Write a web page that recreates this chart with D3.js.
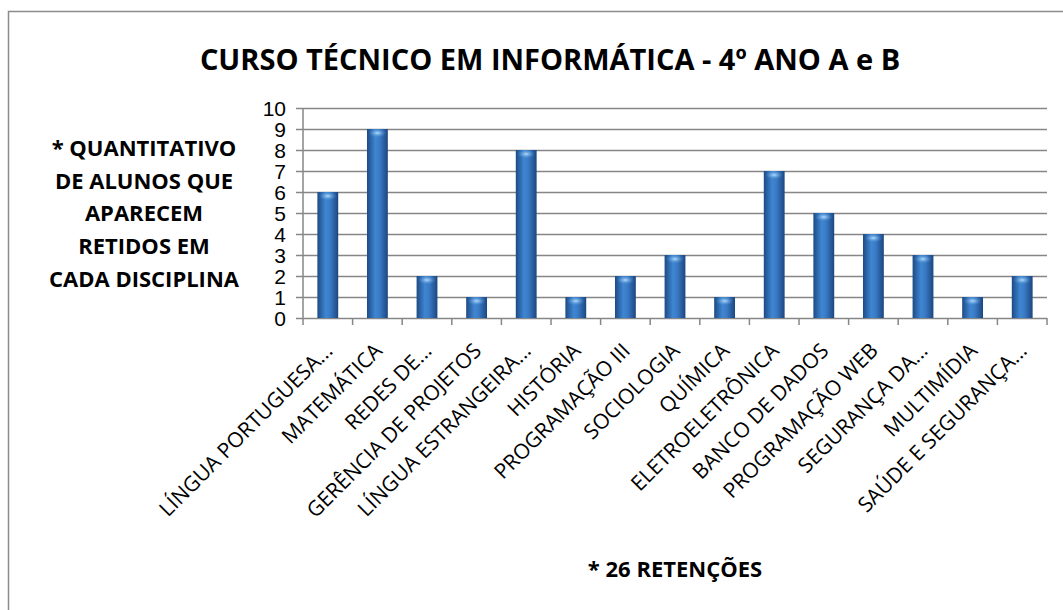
<!DOCTYPE html>
<html>
<head>
<meta charset="utf-8">
<script src="https://cdn.jsdelivr.net/npm/d3@7"></script>
<style>
  body { margin: 0; background: #fff; }
  svg { display: block; }
</style>
</head>
<body>
<div id="chart"></div>
<script>
// data
var disciplinas = ["LÍNGUA PORTUGUESA...", "MATEMÁTICA", "REDES DE...", "GERÊNCIA DE PROJETOS",
  "LÍNGUA ESTRANGEIRA...", "HISTÓRIA", "PROGRAMAÇÃO III", "SOCIOLOGIA", "QUÍMICA",
  "ELETROELETRÔNICA", "BANCO DE DADOS", "PROGRAMAÇÃO WEB", "SEGURANÇA DA...",
  "MULTIMÍDIA", "SAÚDE E SEGURANÇA..."];
var retidos = [6, 9, 2, 1, 8, 1, 2, 3, 1, 7, 5, 4, 3, 1, 2];
var yTicks = [0, 1, 2, 3, 4, 5, 6, 7, 8, 9, 10];
var titulo = "CURSO TÉCNICO EM INFORMÁTICA - 4º ANO A e B";
var eixoY = ["* QUANTITATIVO", "DE ALUNOS QUE", "APARECEM", "RETIDOS EM", "CADA DISCIPLINA"];
var rodape = "* 26 RETENÇÕES";

var width = 1063, height = 610;
var plot = { left: 303, right: 1047, top: 108, bottom: 318 };

var svg = d3.select("#chart")
  .append("svg")
  .attr("width", width)
  .attr("height", height);

// chart border (runs off the picture at right and bottom)
svg.append("rect")
  .attr("x", 8.5).attr("y", 11.5)
  .attr("width", 1100).attr("height", 700)
  .attr("fill", "none")
  .attr("stroke", "#8c8c8c")
  .attr("stroke-width", 1.5);

var xPositionScale = d3.scaleBand()
  .domain(disciplinas)
  .range([plot.left, plot.right])
  .paddingInner(0.58)
  .paddingOuter(0.29);

var yPositionScale = d3.scaleLinear()
  .domain([0, 10])
  .range([plot.bottom, plot.top]);

// bar gradient, cylinder look
var defs = svg.append("defs");
var grad = defs.append("linearGradient")
  .attr("id", "barGrad")
  .attr("x1", "0%").attr("x2", "100%").attr("y1", "0%").attr("y2", "0%");
grad.append("stop").attr("offset", "0%").attr("stop-color", "#1d4a85");
grad.append("stop").attr("offset", "40%").attr("stop-color", "#3f86d2");
grad.append("stop").attr("offset", "60%").attr("stop-color", "#3a7bc6");
grad.append("stop").attr("offset", "100%").attr("stop-color", "#1c4680");

var capGrad = defs.append("radialGradient")
  .attr("id", "capGrad");
capGrad.append("stop").attr("offset", "0%").attr("stop-color", "#b4dcfc");
capGrad.append("stop").attr("offset", "100%").attr("stop-color", "#4a8fd6").attr("stop-opacity", 0);

// y axis with gridlines
var yAxis = d3.axisLeft(yPositionScale)
  .tickValues(yTicks)
  .tickSize(-(plot.right - plot.left) - 7)
  .tickFormat(d3.format("d"));

var yg = svg.append("g")
  .attr("class", "axis y-axis")
  .attr("transform", "translate(" + plot.right + ",0)")
  .call(yAxis);

yg.select(".domain").remove();
yg.selectAll(".tick line")
  .attr("x1", 0)
  .attr("x2", -(plot.right - plot.left) - 7)
  .attr("stroke", "#868686")
  .attr("stroke-width", 1.5);
yg.selectAll(".tick text")
  .attr("x", -(plot.right - plot.left) - 17)
  .attr("dy", "0.36em")
  .attr("fill", "#000")
  .style("font-family", "'Liberation Sans', Arial, sans-serif")
  .style("font-size", "21px");

// vertical axis line
svg.append("line")
  .attr("x1", plot.left).attr("x2", plot.left)
  .attr("y1", plot.top).attr("y2", plot.bottom)
  .attr("stroke", "#868686")
  .attr("stroke-width", 1.5);

// category boundary ticks under the axis
var bounds = disciplinas.map(function(d) {
  return xPositionScale(d) - xPositionScale.step() * xPositionScale.paddingOuter();
});
bounds.push(plot.right);
svg.selectAll(".xtick")
  .data(bounds)
  .enter().append("line")
  .attr("class", "xtick")
  .attr("x1", function(d) { return d; })
  .attr("x2", function(d) { return d; })
  .attr("y1", plot.bottom)
  .attr("y2", plot.bottom + 7)
  .attr("stroke", "#868686")
  .attr("stroke-width", 1.5);

// bars
var bars = svg.selectAll(".bar")
  .data(retidos)
  .enter().append("g")
  .attr("class", "bar");

bars.append("rect")
  .attr("x", function(d, i) { return xPositionScale(disciplinas[i]); })
  .attr("y", function(d) { return yPositionScale(d); })
  .attr("width", xPositionScale.bandwidth())
  .attr("height", function(d) { return yPositionScale(0) - yPositionScale(d); })
  .attr("fill", "url(#barGrad)");

bars.append("ellipse")
  .attr("cx", function(d, i) { return xPositionScale(disciplinas[i]) + xPositionScale.bandwidth() / 2; })
  .attr("cy", function(d) { return yPositionScale(d) + 4; })
  .attr("rx", xPositionScale.bandwidth() / 2.3)
  .attr("ry", 4.5)
  .attr("fill", "url(#capGrad)");

// category labels, rotated
svg.selectAll(".cat")
  .data(disciplinas)
  .enter().append("text")
  .attr("class", "cat")
  .attr("transform", function(d) {
    var cx = xPositionScale(d) + xPositionScale.bandwidth() / 2 + 6;
    return "translate(" + cx + "," + 352 + ") rotate(-45)";
  })
  .attr("text-anchor", "end")
  .style("font-family", "'Open Sans', sans-serif")
  .style("font-size", "21px")
  .attr("fill", "#000")
  .text(function(d) { return d; });

// title
svg.append("text")
  .attr("x", 550)
  .attr("y", 70)
  .attr("text-anchor", "middle")
  .style("font-family", "'Open Sans', sans-serif")
  .style("font-weight", "bold")
  .style("font-size", "29px")
  .text(titulo);

// left side text block
svg.selectAll(".ylab")
  .data(eixoY)
  .enter().append("text")
  .attr("class", "ylab")
  .attr("x", 144)
  .attr("y", function(d, i) { return 156 + i * 32.7; })
  .attr("text-anchor", "middle")
  .style("font-family", "'Open Sans', sans-serif")
  .style("font-weight", "bold")
  .style("font-size", "22px")
  .text(function(d) { return d; });

// bottom note
svg.append("text")
  .attr("x", 675)
  .attr("y", 577)
  .attr("text-anchor", "middle")
  .style("font-family", "'Open Sans', sans-serif")
  .style("font-weight", "bold")
  .style("font-size", "22px")
  .text(rodape);
</script>
</body>
</html>
